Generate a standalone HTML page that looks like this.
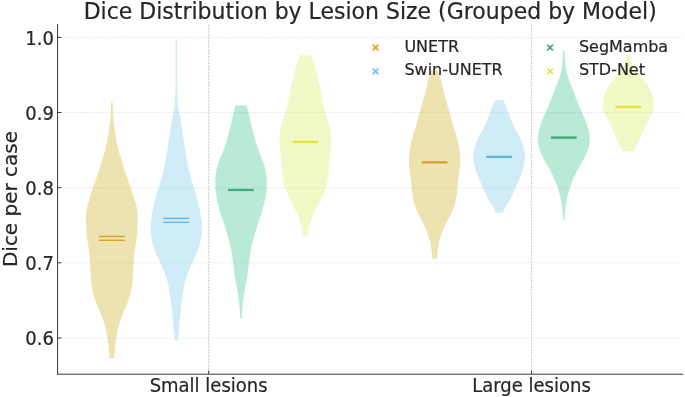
<!DOCTYPE html>
<html><head><meta charset="utf-8"><title>Dice Distribution by Lesion Size</title>
<style>
html,body{margin:0;padding:0;background:#fff;}
svg{display:block;font-family:"DejaVu Sans","Liberation Sans",sans-serif;}
</style></head><body>
<svg width="685" height="397" viewBox="0 0 685 397">
<rect width="685" height="397" fill="#fff"/>

<g stroke="#e6e6e6" stroke-width="0.8" stroke-dasharray="2 1.15" fill="none">
<line x1="58" x2="683" y1="37.4" y2="37.4"/>
<line x1="58" x2="683" y1="112.5" y2="112.5"/>
<line x1="58" x2="683" y1="187.7" y2="187.7"/>
<line x1="58" x2="683" y1="262.8" y2="262.8"/>
<line x1="58" x2="683" y1="338.0" y2="338.0"/>
</g>
<g stroke="#d0d0d0" stroke-width="1.2" stroke-dasharray="2 1.15" fill="none">
<line x1="208.7" x2="208.7" y1="24.5" y2="374"/>
<line x1="531.5" x2="531.5" y1="24.5" y2="374"/>
</g>
<path d="M111.1 102.1 L111.1 103.1 L111.1 104.1 L111.1 105.1 L111.1 106.1 L111.0 107.1 L111.0 108.1 L111.0 109.1 L110.9 110.1 L110.9 111.1 L110.9 112.1 L110.8 113.1 L110.8 114.1 L110.7 115.1 L110.6 116.1 L110.5 117.1 L110.4 118.1 L110.3 119.1 L110.2 120.1 L110.1 121.1 L110.0 122.1 L109.8 123.1 L109.7 124.1 L109.6 125.1 L109.4 126.1 L109.3 127.1 L109.2 128.1 L109.1 129.1 L108.9 130.1 L108.8 131.1 L108.7 132.1 L108.5 133.1 L108.4 134.1 L108.2 135.1 L108.0 136.1 L107.9 137.1 L107.7 138.1 L107.5 139.1 L107.3 140.1 L107.1 141.1 L106.9 142.1 L106.7 143.1 L106.4 144.1 L106.3 145.1 L106.1 146.1 L105.9 147.1 L105.7 148.1 L105.6 149.1 L105.3 150.1 L105.1 151.1 L104.7 152.1 L104.4 153.1 L104.0 154.1 L103.7 155.1 L103.3 156.1 L103.0 157.1 L102.7 158.1 L102.4 159.1 L102.1 160.1 L101.8 161.1 L101.5 162.1 L101.2 163.1 L100.9 164.1 L100.6 165.1 L100.3 166.1 L100.0 167.1 L99.7 168.1 L99.4 169.1 L99.1 170.1 L98.7 171.1 L98.4 172.1 L98.1 173.1 L97.7 174.1 L97.4 175.1 L97.0 176.1 L96.7 177.1 L96.3 178.1 L96.0 179.1 L95.6 180.1 L95.3 181.1 L94.9 182.1 L94.6 183.1 L94.2 184.1 L93.9 185.1 L93.5 186.1 L93.2 187.1 L92.8 188.1 L92.5 189.1 L92.2 190.1 L91.8 191.1 L91.5 192.1 L91.2 193.1 L90.8 194.1 L90.5 195.1 L90.3 196.1 L90.0 197.1 L89.7 198.1 L89.4 199.1 L89.1 200.1 L88.8 201.1 L88.5 202.1 L88.1 203.1 L87.8 204.1 L87.5 205.1 L87.3 206.1 L87.1 207.1 L86.9 208.1 L86.7 209.1 L86.5 210.1 L86.4 211.1 L86.3 212.1 L86.2 213.1 L86.1 214.1 L86.1 215.1 L86.0 216.1 L86.0 217.1 L86.0 218.1 L86.0 219.1 L86.0 220.1 L86.0 221.1 L86.0 222.1 L86.0 223.1 L86.0 224.1 L86.0 225.1 L86.1 226.1 L86.1 227.1 L86.2 228.1 L86.3 229.1 L86.3 230.1 L86.4 231.1 L86.5 232.1 L86.6 233.1 L86.7 234.1 L86.8 235.1 L86.9 236.1 L87.0 237.1 L87.1 238.1 L87.2 239.1 L87.3 240.1 L87.5 241.1 L87.6 242.1 L87.8 243.1 L87.9 244.1 L88.1 245.1 L88.3 246.1 L88.5 247.1 L88.7 248.1 L88.8 249.1 L89.0 250.1 L89.1 251.1 L89.2 252.1 L89.3 253.1 L89.4 254.1 L89.5 255.1 L89.6 256.1 L89.7 257.1 L89.7 258.1 L89.8 259.1 L89.8 260.1 L89.9 261.1 L89.9 262.1 L90.0 263.1 L90.0 264.1 L90.1 265.1 L90.1 266.1 L90.1 267.1 L90.2 268.1 L90.2 269.1 L90.3 270.1 L90.3 271.1 L90.4 272.1 L90.4 273.1 L90.5 274.1 L90.6 275.1 L90.7 276.1 L90.7 277.1 L90.8 278.1 L90.9 279.1 L91.0 280.1 L91.1 281.1 L91.2 282.1 L91.4 283.1 L91.5 284.1 L91.6 285.1 L91.8 286.1 L92.0 287.1 L92.2 288.1 L92.4 289.1 L92.6 290.1 L92.8 291.1 L93.0 292.1 L93.2 293.1 L93.4 294.1 L93.7 295.1 L93.9 296.1 L94.2 297.1 L94.5 298.1 L94.8 299.1 L95.2 300.1 L95.6 301.1 L96.0 302.1 L96.3 303.1 L96.6 304.1 L97.0 305.1 L97.3 306.1 L97.8 307.1 L98.3 308.1 L98.8 309.1 L99.2 310.1 L99.6 311.1 L100.0 312.1 L100.4 313.1 L100.8 314.1 L101.2 315.1 L101.6 316.1 L101.9 317.1 L102.3 318.1 L102.7 319.1 L103.1 320.1 L103.4 321.1 L103.8 322.1 L104.1 323.1 L104.4 324.1 L104.7 325.1 L105.0 326.1 L105.3 327.1 L105.5 328.1 L105.8 329.1 L106.0 330.1 L106.2 331.1 L106.4 332.1 L106.6 333.1 L106.8 334.1 L107.0 335.1 L107.2 336.1 L107.3 337.1 L107.5 338.1 L107.6 339.1 L107.8 340.1 L107.9 341.1 L108.0 342.1 L108.1 343.1 L108.3 344.1 L108.4 345.1 L108.5 346.1 L108.6 347.1 L108.6 348.1 L108.7 349.1 L108.8 350.1 L108.9 351.1 L109.0 352.1 L109.0 353.1 L109.1 354.1 L109.2 355.1 L109.3 356.1 L109.4 357.1 L109.4 358.1 L109.4 358.3 L114.2 358.3 L114.3 358.1 L114.3 357.1 L114.4 356.1 L114.5 355.1 L114.6 354.1 L114.7 353.1 L114.7 352.1 L114.8 351.1 L114.9 350.1 L115.0 349.1 L115.1 348.1 L115.1 347.1 L115.2 346.1 L115.3 345.1 L115.4 344.1 L115.6 343.1 L115.7 342.1 L115.8 341.1 L115.9 340.1 L116.1 339.1 L116.2 338.1 L116.4 337.1 L116.5 336.1 L116.7 335.1 L116.9 334.1 L117.1 333.1 L117.3 332.1 L117.5 331.1 L117.7 330.1 L117.9 329.1 L118.2 328.1 L118.4 327.1 L118.7 326.1 L119.0 325.1 L119.3 324.1 L119.6 323.1 L119.9 322.1 L120.3 321.1 L120.6 320.1 L121.0 319.1 L121.4 318.1 L121.8 317.1 L122.1 316.1 L122.5 315.1 L122.9 314.1 L123.3 313.1 L123.7 312.1 L124.1 311.1 L124.5 310.1 L124.9 309.1 L125.4 308.1 L125.9 307.1 L126.4 306.1 L126.7 305.1 L127.1 304.1 L127.4 303.1 L127.7 302.1 L128.1 301.1 L128.5 300.1 L128.9 299.1 L129.2 298.1 L129.5 297.1 L129.8 296.1 L130.0 295.1 L130.3 294.1 L130.5 293.1 L130.7 292.1 L130.9 291.1 L131.1 290.1 L131.3 289.1 L131.5 288.1 L131.7 287.1 L131.9 286.1 L132.1 285.1 L132.2 284.1 L132.3 283.1 L132.5 282.1 L132.6 281.1 L132.7 280.1 L132.8 279.1 L132.9 278.1 L133.0 277.1 L133.0 276.1 L133.1 275.1 L133.2 274.1 L133.3 273.1 L133.3 272.1 L133.4 271.1 L133.4 270.1 L133.5 269.1 L133.5 268.1 L133.6 267.1 L133.6 266.1 L133.6 265.1 L133.7 264.1 L133.7 263.1 L133.8 262.1 L133.8 261.1 L133.9 260.1 L133.9 259.1 L134.0 258.1 L134.0 257.1 L134.1 256.1 L134.2 255.1 L134.3 254.1 L134.4 253.1 L134.5 252.1 L134.6 251.1 L134.7 250.1 L134.9 249.1 L135.0 248.1 L135.2 247.1 L135.4 246.1 L135.6 245.1 L135.8 244.1 L135.9 243.1 L136.1 242.1 L136.2 241.1 L136.4 240.1 L136.5 239.1 L136.6 238.1 L136.7 237.1 L136.8 236.1 L136.9 235.1 L137.0 234.1 L137.1 233.1 L137.2 232.1 L137.3 231.1 L137.4 230.1 L137.4 229.1 L137.5 228.1 L137.6 227.1 L137.6 226.1 L137.7 225.1 L137.7 224.1 L137.7 223.1 L137.7 222.1 L137.7 221.1 L137.7 220.1 L137.7 219.1 L137.7 218.1 L137.7 217.1 L137.7 216.1 L137.6 215.1 L137.6 214.1 L137.5 213.1 L137.4 212.1 L137.3 211.1 L137.2 210.1 L137.0 209.1 L136.8 208.1 L136.6 207.1 L136.4 206.1 L136.2 205.1 L135.9 204.1 L135.6 203.1 L135.2 202.1 L134.9 201.1 L134.6 200.1 L134.3 199.1 L134.0 198.1 L133.7 197.1 L133.4 196.1 L133.2 195.1 L132.8 194.1 L132.5 193.1 L132.2 192.1 L131.9 191.1 L131.5 190.1 L131.2 189.1 L130.9 188.1 L130.5 187.1 L130.2 186.1 L129.8 185.1 L129.5 184.1 L129.1 183.1 L128.8 182.1 L128.4 181.1 L128.1 180.1 L127.7 179.1 L127.4 178.1 L127.0 177.1 L126.7 176.1 L126.3 175.1 L126.0 174.1 L125.6 173.1 L125.3 172.1 L125.0 171.1 L124.6 170.1 L124.3 169.1 L124.0 168.1 L123.7 167.1 L123.4 166.1 L123.1 165.1 L122.8 164.1 L122.5 163.1 L122.2 162.1 L121.9 161.1 L121.6 160.1 L121.3 159.1 L121.0 158.1 L120.7 157.1 L120.4 156.1 L120.0 155.1 L119.7 154.1 L119.3 153.1 L119.0 152.1 L118.6 151.1 L118.4 150.1 L118.1 149.1 L118.0 148.1 L117.8 147.1 L117.6 146.1 L117.4 145.1 L117.2 144.1 L117.0 143.1 L116.8 142.1 L116.6 141.1 L116.4 140.1 L116.2 139.1 L116.0 138.1 L115.8 137.1 L115.7 136.1 L115.5 135.1 L115.3 134.1 L115.2 133.1 L115.0 132.1 L114.9 131.1 L114.8 130.1 L114.6 129.1 L114.5 128.1 L114.4 127.1 L114.3 126.1 L114.1 125.1 L114.0 124.1 L113.9 123.1 L113.7 122.1 L113.6 121.1 L113.5 120.1 L113.4 119.1 L113.3 118.1 L113.2 117.1 L113.1 116.1 L113.0 115.1 L112.9 114.1 L112.9 113.1 L112.8 112.1 L112.8 111.1 L112.8 110.1 L112.7 109.1 L112.7 108.1 L112.7 107.1 L112.6 106.1 L112.6 105.1 L112.6 104.1 L112.6 103.1 L112.6 102.1Z" fill="rgb(204,175,32)" fill-opacity="0.35"/>
<path d="M175.7 40.1 L175.7 41.1 L175.7 42.1 L175.7 43.1 L175.7 44.1 L175.7 45.1 L175.7 46.1 L175.7 47.1 L175.7 48.1 L175.7 49.1 L175.7 50.1 L175.7 51.1 L175.7 52.1 L175.7 53.1 L175.7 54.1 L175.7 55.1 L175.7 56.1 L175.7 57.1 L175.7 58.1 L175.7 59.1 L175.6 60.1 L175.6 61.1 L175.6 62.1 L175.6 63.1 L175.6 64.1 L175.6 65.1 L175.6 66.1 L175.6 67.1 L175.6 68.1 L175.6 69.1 L175.6 70.1 L175.6 71.1 L175.6 72.1 L175.6 73.1 L175.6 74.1 L175.6 75.1 L175.6 76.1 L175.6 77.1 L175.6 78.1 L175.6 79.1 L175.6 80.1 L175.6 81.1 L175.6 82.1 L175.6 83.1 L175.6 84.1 L175.5 85.1 L175.5 86.1 L175.5 87.1 L175.5 88.1 L175.5 89.1 L175.5 90.1 L175.4 91.1 L175.4 92.1 L175.4 93.1 L175.3 94.1 L175.3 95.1 L175.3 96.1 L175.2 97.1 L175.2 98.1 L175.1 99.1 L175.1 100.1 L175.0 101.1 L174.9 102.1 L174.9 103.1 L174.8 104.1 L174.7 105.1 L174.6 106.1 L174.4 107.1 L174.3 108.1 L174.1 109.1 L173.9 110.1 L173.7 111.1 L173.5 112.1 L173.4 113.1 L173.2 114.1 L173.0 115.1 L172.8 116.1 L172.6 117.1 L172.5 118.1 L172.3 119.1 L172.1 120.1 L171.9 121.1 L171.8 122.1 L171.6 123.1 L171.5 124.1 L171.3 125.1 L171.1 126.1 L171.0 127.1 L170.8 128.1 L170.6 129.1 L170.5 130.1 L170.3 131.1 L170.1 132.1 L170.0 133.1 L169.8 134.1 L169.7 135.1 L169.5 136.1 L169.3 137.1 L169.2 138.1 L169.0 139.1 L168.8 140.1 L168.7 141.1 L168.5 142.1 L168.4 143.1 L168.2 144.1 L168.1 145.1 L167.9 146.1 L167.8 147.1 L167.6 148.1 L167.5 149.1 L167.3 150.1 L167.2 151.1 L167.0 152.1 L166.9 153.1 L166.7 154.1 L166.6 155.1 L166.4 156.1 L166.3 157.1 L166.1 158.1 L166.0 159.1 L165.8 160.1 L165.6 161.1 L165.4 162.1 L165.2 163.1 L165.0 164.1 L164.8 165.1 L164.6 166.1 L164.3 167.1 L164.1 168.1 L163.9 169.1 L163.7 170.1 L163.5 171.1 L163.2 172.1 L163.0 173.1 L162.7 174.1 L162.5 175.1 L162.2 176.1 L161.9 177.1 L161.6 178.1 L161.3 179.1 L161.0 180.1 L160.7 181.1 L160.4 182.1 L160.1 183.1 L159.8 184.1 L159.5 185.1 L159.2 186.1 L158.9 187.1 L158.5 188.1 L158.2 189.1 L157.9 190.1 L157.6 191.1 L157.3 192.1 L157.0 193.1 L156.7 194.1 L156.4 195.1 L156.1 196.1 L155.8 197.1 L155.6 198.1 L155.3 199.1 L155.0 200.1 L154.8 201.1 L154.5 202.1 L154.3 203.1 L154.1 204.1 L153.8 205.1 L153.6 206.1 L153.4 207.1 L153.2 208.1 L153.0 209.1 L152.8 210.1 L152.6 211.1 L152.5 212.1 L152.3 213.1 L152.1 214.1 L152.0 215.1 L151.9 216.1 L151.7 217.1 L151.6 218.1 L151.4 219.1 L151.2 220.1 L151.0 221.1 L150.9 222.1 L150.8 223.1 L150.8 224.1 L150.7 225.1 L150.7 226.1 L150.6 227.1 L150.6 228.1 L150.6 229.1 L150.6 230.1 L150.6 231.1 L150.7 232.1 L150.8 233.1 L150.9 234.1 L151.1 235.1 L151.2 236.1 L151.3 237.1 L151.5 238.1 L151.6 239.1 L151.8 240.1 L152.1 241.1 L152.3 242.1 L152.5 243.1 L152.8 244.1 L153.0 245.1 L153.3 246.1 L153.6 247.1 L154.0 248.1 L154.3 249.1 L154.7 250.1 L155.0 251.1 L155.4 252.1 L155.8 253.1 L156.3 254.1 L156.7 255.1 L157.2 256.1 L157.7 257.1 L158.1 258.1 L158.6 259.1 L159.0 260.1 L159.5 261.1 L160.0 262.1 L160.4 263.1 L160.9 264.1 L161.3 265.1 L161.8 266.1 L162.2 267.1 L162.6 268.1 L163.0 269.1 L163.4 270.1 L163.8 271.1 L164.2 272.1 L164.6 273.1 L165.0 274.1 L165.4 275.1 L165.8 276.1 L166.1 277.1 L166.5 278.1 L166.8 279.1 L167.1 280.1 L167.3 281.1 L167.6 282.1 L167.9 283.1 L168.1 284.1 L168.3 285.1 L168.5 286.1 L168.7 287.1 L168.9 288.1 L169.1 289.1 L169.2 290.1 L169.4 291.1 L169.5 292.1 L169.7 293.1 L169.8 294.1 L170.0 295.1 L170.1 296.1 L170.2 297.1 L170.4 298.1 L170.5 299.1 L170.6 300.1 L170.7 301.1 L170.9 302.1 L171.0 303.1 L171.1 304.1 L171.2 305.1 L171.4 306.1 L171.5 307.1 L171.6 308.1 L171.7 309.1 L171.8 310.1 L171.9 311.1 L172.0 312.1 L172.1 313.1 L172.2 314.1 L172.3 315.1 L172.4 316.1 L172.5 317.1 L172.6 318.1 L172.7 319.1 L172.8 320.1 L172.9 321.1 L173.0 322.1 L173.1 323.1 L173.2 324.1 L173.2 325.1 L173.3 326.1 L173.4 327.1 L173.5 328.1 L173.6 329.1 L173.7 330.1 L173.9 331.1 L174.0 332.1 L174.1 333.1 L174.2 334.1 L174.3 335.1 L174.4 336.1 L174.5 337.1 L174.5 338.1 L174.6 339.1 L174.7 340.1 L174.7 340.9 L177.9 340.9 L177.9 340.1 L178.0 339.1 L178.1 338.1 L178.1 337.1 L178.2 336.1 L178.3 335.1 L178.4 334.1 L178.5 333.1 L178.6 332.1 L178.7 331.1 L178.9 330.1 L179.0 329.1 L179.1 328.1 L179.2 327.1 L179.3 326.1 L179.4 325.1 L179.4 324.1 L179.5 323.1 L179.6 322.1 L179.7 321.1 L179.8 320.1 L179.9 319.1 L180.0 318.1 L180.1 317.1 L180.2 316.1 L180.3 315.1 L180.4 314.1 L180.5 313.1 L180.6 312.1 L180.7 311.1 L180.8 310.1 L180.9 309.1 L181.0 308.1 L181.1 307.1 L181.2 306.1 L181.4 305.1 L181.5 304.1 L181.6 303.1 L181.7 302.1 L181.9 301.1 L182.0 300.1 L182.1 299.1 L182.2 298.1 L182.4 297.1 L182.5 296.1 L182.6 295.1 L182.8 294.1 L182.9 293.1 L183.1 292.1 L183.2 291.1 L183.4 290.1 L183.5 289.1 L183.7 288.1 L183.9 287.1 L184.1 286.1 L184.3 285.1 L184.5 284.1 L184.7 283.1 L185.0 282.1 L185.3 281.1 L185.5 280.1 L185.8 279.1 L186.1 278.1 L186.5 277.1 L186.8 276.1 L187.2 275.1 L187.6 274.1 L188.0 273.1 L188.4 272.1 L188.8 271.1 L189.2 270.1 L189.6 269.1 L190.0 268.1 L190.4 267.1 L190.8 266.1 L191.3 265.1 L191.7 264.1 L192.2 263.1 L192.6 262.1 L193.1 261.1 L193.6 260.1 L194.0 259.1 L194.5 258.1 L194.9 257.1 L195.4 256.1 L195.9 255.1 L196.3 254.1 L196.8 253.1 L197.2 252.1 L197.6 251.1 L197.9 250.1 L198.3 249.1 L198.6 248.1 L199.0 247.1 L199.3 246.1 L199.6 245.1 L199.8 244.1 L200.1 243.1 L200.3 242.1 L200.5 241.1 L200.8 240.1 L201.0 239.1 L201.1 238.1 L201.3 237.1 L201.4 236.1 L201.5 235.1 L201.7 234.1 L201.8 233.1 L201.9 232.1 L202.0 231.1 L202.0 230.1 L202.0 229.1 L202.0 228.1 L202.0 227.1 L201.9 226.1 L201.9 225.1 L201.8 224.1 L201.8 223.1 L201.7 222.1 L201.6 221.1 L201.4 220.1 L201.2 219.1 L201.0 218.1 L200.9 217.1 L200.7 216.1 L200.6 215.1 L200.5 214.1 L200.3 213.1 L200.1 212.1 L200.0 211.1 L199.8 210.1 L199.6 209.1 L199.4 208.1 L199.2 207.1 L199.0 206.1 L198.8 205.1 L198.5 204.1 L198.3 203.1 L198.1 202.1 L197.8 201.1 L197.6 200.1 L197.3 199.1 L197.0 198.1 L196.8 197.1 L196.5 196.1 L196.2 195.1 L195.9 194.1 L195.6 193.1 L195.3 192.1 L195.0 191.1 L194.7 190.1 L194.4 189.1 L194.1 188.1 L193.7 187.1 L193.4 186.1 L193.1 185.1 L192.8 184.1 L192.5 183.1 L192.2 182.1 L191.9 181.1 L191.6 180.1 L191.3 179.1 L191.0 178.1 L190.7 177.1 L190.4 176.1 L190.1 175.1 L189.9 174.1 L189.6 173.1 L189.4 172.1 L189.1 171.1 L188.9 170.1 L188.7 169.1 L188.5 168.1 L188.3 167.1 L188.0 166.1 L187.8 165.1 L187.6 164.1 L187.4 163.1 L187.2 162.1 L187.0 161.1 L186.8 160.1 L186.6 159.1 L186.5 158.1 L186.3 157.1 L186.2 156.1 L186.0 155.1 L185.9 154.1 L185.7 153.1 L185.6 152.1 L185.4 151.1 L185.3 150.1 L185.1 149.1 L185.0 148.1 L184.8 147.1 L184.7 146.1 L184.5 145.1 L184.4 144.1 L184.2 143.1 L184.1 142.1 L183.9 141.1 L183.8 140.1 L183.6 139.1 L183.4 138.1 L183.3 137.1 L183.1 136.1 L182.9 135.1 L182.8 134.1 L182.6 133.1 L182.5 132.1 L182.3 131.1 L182.1 130.1 L182.0 129.1 L181.8 128.1 L181.6 127.1 L181.5 126.1 L181.3 125.1 L181.1 124.1 L181.0 123.1 L180.8 122.1 L180.7 121.1 L180.5 120.1 L180.3 119.1 L180.1 118.1 L180.0 117.1 L179.8 116.1 L179.6 115.1 L179.4 114.1 L179.2 113.1 L179.1 112.1 L178.9 111.1 L178.7 110.1 L178.5 109.1 L178.3 108.1 L178.2 107.1 L178.0 106.1 L177.9 105.1 L177.8 104.1 L177.7 103.1 L177.7 102.1 L177.6 101.1 L177.5 100.1 L177.5 99.1 L177.4 98.1 L177.4 97.1 L177.3 96.1 L177.3 95.1 L177.3 94.1 L177.2 93.1 L177.2 92.1 L177.2 91.1 L177.1 90.1 L177.1 89.1 L177.1 88.1 L177.1 87.1 L177.1 86.1 L177.1 85.1 L177.0 84.1 L177.0 83.1 L177.0 82.1 L177.0 81.1 L177.0 80.1 L177.0 79.1 L177.0 78.1 L177.0 77.1 L177.0 76.1 L177.0 75.1 L177.0 74.1 L177.0 73.1 L177.0 72.1 L177.0 71.1 L177.0 70.1 L177.0 69.1 L177.0 68.1 L177.0 67.1 L177.0 66.1 L177.0 65.1 L177.0 64.1 L177.0 63.1 L177.0 62.1 L177.0 61.1 L177.0 60.1 L176.9 59.1 L176.9 58.1 L176.9 57.1 L176.9 56.1 L176.9 55.1 L176.9 54.1 L176.9 53.1 L176.9 52.1 L176.9 51.1 L176.9 50.1 L176.9 49.1 L176.9 48.1 L176.9 47.1 L176.9 46.1 L176.9 45.1 L176.9 44.1 L176.9 43.1 L176.9 42.1 L176.9 41.1 L176.9 40.1Z" fill="rgb(118,201,232)" fill-opacity="0.35"/>
<path d="M235.3 105.5 L235.0 106.5 L234.8 107.5 L234.5 108.5 L234.3 109.5 L234.1 110.5 L233.8 111.5 L233.6 112.5 L233.3 113.5 L233.1 114.5 L232.9 115.5 L232.6 116.5 L232.4 117.5 L232.2 118.5 L232.0 119.5 L231.8 120.5 L231.6 121.5 L231.3 122.5 L231.1 123.5 L230.9 124.5 L230.7 125.5 L230.4 126.5 L230.2 127.5 L229.9 128.5 L229.7 129.5 L229.4 130.5 L229.2 131.5 L228.9 132.5 L228.7 133.5 L228.4 134.5 L228.2 135.5 L227.9 136.5 L227.7 137.5 L227.4 138.5 L227.1 139.5 L226.8 140.5 L226.5 141.5 L226.1 142.5 L225.8 143.5 L225.4 144.5 L225.1 145.5 L224.7 146.5 L224.4 147.5 L224.1 148.5 L223.7 149.5 L223.4 150.5 L223.0 151.5 L222.7 152.5 L222.3 153.5 L221.9 154.5 L221.4 155.5 L220.9 156.5 L220.4 157.5 L220.0 158.5 L219.7 159.5 L219.4 160.5 L219.1 161.5 L218.7 162.5 L218.3 163.5 L217.9 164.5 L217.5 165.5 L217.3 166.5 L217.0 167.5 L216.8 168.5 L216.5 169.5 L216.3 170.5 L216.2 171.5 L216.0 172.5 L215.9 173.5 L215.7 174.5 L215.6 175.5 L215.5 176.5 L215.4 177.5 L215.3 178.5 L215.3 179.5 L215.3 180.5 L215.3 181.5 L215.3 182.5 L215.3 183.5 L215.3 184.5 L215.3 185.5 L215.3 186.5 L215.3 187.5 L215.3 188.5 L215.4 189.5 L215.5 190.5 L215.7 191.5 L215.8 192.5 L216.0 193.5 L216.1 194.5 L216.2 195.5 L216.4 196.5 L216.6 197.5 L216.8 198.5 L217.0 199.5 L217.2 200.5 L217.4 201.5 L217.6 202.5 L217.9 203.5 L218.2 204.5 L218.4 205.5 L218.7 206.5 L219.0 207.5 L219.2 208.5 L219.5 209.5 L219.7 210.5 L219.9 211.5 L220.1 212.5 L220.4 213.5 L220.7 214.5 L221.1 215.5 L221.5 216.5 L221.9 217.5 L222.3 218.5 L222.6 219.5 L223.0 220.5 L223.3 221.5 L223.6 222.5 L224.0 223.5 L224.3 224.5 L224.6 225.5 L225.0 226.5 L225.3 227.5 L225.6 228.5 L225.9 229.5 L226.2 230.5 L226.5 231.5 L226.8 232.5 L227.1 233.5 L227.4 234.5 L227.7 235.5 L228.0 236.5 L228.2 237.5 L228.5 238.5 L228.8 239.5 L229.1 240.5 L229.3 241.5 L229.6 242.5 L229.8 243.5 L230.0 244.5 L230.3 245.5 L230.5 246.5 L230.7 247.5 L230.9 248.5 L231.1 249.5 L231.3 250.5 L231.5 251.5 L231.6 252.5 L231.8 253.5 L231.9 254.5 L232.1 255.5 L232.2 256.5 L232.4 257.5 L232.5 258.5 L232.7 259.5 L232.8 260.5 L232.9 261.5 L233.1 262.5 L233.2 263.5 L233.3 264.5 L233.5 265.5 L233.6 266.5 L233.8 267.5 L233.9 268.5 L234.0 269.5 L234.2 270.5 L234.3 271.5 L234.3 272.5 L234.4 273.5 L234.5 274.5 L234.7 275.5 L234.9 276.5 L235.0 277.5 L235.2 278.5 L235.4 279.5 L235.6 280.5 L235.8 281.5 L235.9 282.5 L236.1 283.5 L236.3 284.5 L236.5 285.5 L236.7 286.5 L236.8 287.5 L237.0 288.5 L237.2 289.5 L237.3 290.5 L237.5 291.5 L237.7 292.5 L237.8 293.5 L238.0 294.5 L238.1 295.5 L238.3 296.5 L238.4 297.5 L238.6 298.5 L238.7 299.5 L238.9 300.5 L239.0 301.5 L239.1 302.5 L239.2 303.5 L239.3 304.5 L239.4 305.5 L239.5 306.5 L239.6 307.5 L239.7 308.5 L239.8 309.5 L239.8 310.5 L239.9 311.5 L240.0 312.5 L240.0 313.5 L240.1 314.5 L240.1 315.5 L240.1 316.5 L240.2 317.5 L240.2 318.3 L241.8 318.3 L241.8 317.5 L241.9 316.5 L241.9 315.5 L241.9 314.5 L242.0 313.5 L242.0 312.5 L242.1 311.5 L242.2 310.5 L242.2 309.5 L242.3 308.5 L242.4 307.5 L242.5 306.5 L242.6 305.5 L242.7 304.5 L242.8 303.5 L242.9 302.5 L243.0 301.5 L243.1 300.5 L243.3 299.5 L243.4 298.5 L243.6 297.5 L243.7 296.5 L243.9 295.5 L244.0 294.5 L244.2 293.5 L244.3 292.5 L244.5 291.5 L244.7 290.5 L244.8 289.5 L245.0 288.5 L245.2 287.5 L245.3 286.5 L245.5 285.5 L245.7 284.5 L245.9 283.5 L246.1 282.5 L246.2 281.5 L246.4 280.5 L246.6 279.5 L246.8 278.5 L247.0 277.5 L247.1 276.5 L247.3 275.5 L247.5 274.5 L247.6 273.5 L247.7 272.5 L247.7 271.5 L247.8 270.5 L248.0 269.5 L248.1 268.5 L248.2 267.5 L248.4 266.5 L248.5 265.5 L248.7 264.5 L248.8 263.5 L248.9 262.5 L249.1 261.5 L249.2 260.5 L249.3 259.5 L249.5 258.5 L249.6 257.5 L249.8 256.5 L249.9 255.5 L250.1 254.5 L250.2 253.5 L250.4 252.5 L250.5 251.5 L250.7 250.5 L250.9 249.5 L251.1 248.5 L251.3 247.5 L251.5 246.5 L251.7 245.5 L252.0 244.5 L252.2 243.5 L252.4 242.5 L252.7 241.5 L252.9 240.5 L253.2 239.5 L253.5 238.5 L253.8 237.5 L254.0 236.5 L254.3 235.5 L254.6 234.5 L254.9 233.5 L255.2 232.5 L255.5 231.5 L255.8 230.5 L256.1 229.5 L256.4 228.5 L256.7 227.5 L257.0 226.5 L257.4 225.5 L257.7 224.5 L258.0 223.5 L258.4 222.5 L258.7 221.5 L259.0 220.5 L259.4 219.5 L259.7 218.5 L260.1 217.5 L260.5 216.5 L260.9 215.5 L261.3 214.5 L261.6 213.5 L261.9 212.5 L262.1 211.5 L262.3 210.5 L262.5 209.5 L262.8 208.5 L263.0 207.5 L263.3 206.5 L263.6 205.5 L263.8 204.5 L264.1 203.5 L264.4 202.5 L264.6 201.5 L264.8 200.5 L265.0 199.5 L265.2 198.5 L265.4 197.5 L265.6 196.5 L265.8 195.5 L265.9 194.5 L266.0 193.5 L266.2 192.5 L266.3 191.5 L266.5 190.5 L266.6 189.5 L266.7 188.5 L266.7 187.5 L266.7 186.5 L266.7 185.5 L266.7 184.5 L266.7 183.5 L266.7 182.5 L266.7 181.5 L266.7 180.5 L266.7 179.5 L266.7 178.5 L266.6 177.5 L266.5 176.5 L266.4 175.5 L266.3 174.5 L266.1 173.5 L266.0 172.5 L265.8 171.5 L265.7 170.5 L265.5 169.5 L265.2 168.5 L265.0 167.5 L264.7 166.5 L264.5 165.5 L264.1 164.5 L263.7 163.5 L263.3 162.5 L262.9 161.5 L262.6 160.5 L262.3 159.5 L262.0 158.5 L261.6 157.5 L261.1 156.5 L260.6 155.5 L260.1 154.5 L259.7 153.5 L259.3 152.5 L259.0 151.5 L258.6 150.5 L258.3 149.5 L257.9 148.5 L257.6 147.5 L257.3 146.5 L256.9 145.5 L256.6 144.5 L256.2 143.5 L255.9 142.5 L255.5 141.5 L255.2 140.5 L254.9 139.5 L254.6 138.5 L254.3 137.5 L254.1 136.5 L253.8 135.5 L253.6 134.5 L253.3 133.5 L253.1 132.5 L252.8 131.5 L252.6 130.5 L252.3 129.5 L252.1 128.5 L251.8 127.5 L251.6 126.5 L251.3 125.5 L251.1 124.5 L250.9 123.5 L250.7 122.5 L250.4 121.5 L250.2 120.5 L250.0 119.5 L249.8 118.5 L249.6 117.5 L249.4 116.5 L249.1 115.5 L248.9 114.5 L248.7 113.5 L248.4 112.5 L248.2 111.5 L247.9 110.5 L247.7 109.5 L247.5 108.5 L247.2 107.5 L247.0 106.5 L246.7 105.5Z" fill="rgb(55,195,138)" fill-opacity="0.35"/>
<path d="M300.0 55.2 L299.6 56.2 L299.3 57.2 L298.9 58.2 L298.6 59.2 L298.2 60.2 L297.9 61.2 L297.6 62.2 L297.3 63.2 L296.9 64.2 L296.6 65.2 L296.3 66.2 L296.0 67.2 L295.7 68.2 L295.4 69.2 L295.1 70.2 L294.8 71.2 L294.5 72.2 L294.2 73.2 L293.9 74.2 L293.6 75.2 L293.3 76.2 L293.1 77.2 L292.8 78.2 L292.5 79.2 L292.3 80.2 L292.0 81.2 L291.8 82.2 L291.6 83.2 L291.3 84.2 L291.1 85.2 L290.9 86.2 L290.7 87.2 L290.5 88.2 L290.3 89.2 L290.1 90.2 L289.9 91.2 L289.7 92.2 L289.5 93.2 L289.4 94.2 L289.2 95.2 L289.0 96.2 L288.8 97.2 L288.6 98.2 L288.4 99.2 L288.2 100.2 L288.0 101.2 L287.8 102.2 L287.6 103.2 L287.4 104.2 L287.2 105.2 L287.0 106.2 L286.8 107.2 L286.6 108.2 L286.4 109.2 L286.2 110.2 L285.9 111.2 L285.6 112.2 L285.3 113.2 L285.0 114.2 L284.6 115.2 L284.3 116.2 L284.0 117.2 L283.7 118.2 L283.4 119.2 L283.1 120.2 L282.8 121.2 L282.5 122.2 L282.2 123.2 L281.9 124.2 L281.6 125.2 L281.3 126.2 L281.1 127.2 L280.8 128.2 L280.6 129.2 L280.5 130.2 L280.3 131.2 L280.1 132.2 L280.0 133.2 L279.9 134.2 L279.8 135.2 L279.7 136.2 L279.7 137.2 L279.7 138.2 L279.7 139.2 L279.7 140.2 L279.7 141.2 L279.7 142.2 L279.7 143.2 L279.7 144.2 L279.7 145.2 L279.8 146.2 L279.8 147.2 L279.9 148.2 L280.0 149.2 L280.1 150.2 L280.2 151.2 L280.3 152.2 L280.4 153.2 L280.5 154.2 L280.6 155.2 L280.7 156.2 L280.8 157.2 L280.9 158.2 L281.0 159.2 L281.1 160.2 L281.2 161.2 L281.3 162.2 L281.4 163.2 L281.5 164.2 L281.6 165.2 L281.7 166.2 L281.8 167.2 L281.9 168.2 L281.9 169.2 L282.0 170.2 L282.1 171.2 L282.2 172.2 L282.2 173.2 L282.3 174.2 L282.4 175.2 L282.5 176.2 L282.6 177.2 L282.8 178.2 L282.9 179.2 L283.1 180.2 L283.3 181.2 L283.5 182.2 L283.8 183.2 L284.0 184.2 L284.3 185.2 L284.6 186.2 L284.9 187.2 L285.2 188.2 L285.6 189.2 L285.9 190.2 L286.3 191.2 L286.7 192.2 L287.1 193.2 L287.5 194.2 L288.0 195.2 L288.4 196.2 L288.9 197.2 L289.4 198.2 L289.9 199.2 L290.3 200.2 L290.8 201.2 L291.3 202.2 L291.8 203.2 L292.3 204.2 L292.8 205.2 L293.3 206.2 L293.9 207.2 L294.4 208.2 L294.9 209.2 L295.4 210.2 L295.9 211.2 L296.5 212.2 L296.9 213.2 L297.4 214.2 L297.8 215.2 L298.3 216.2 L298.7 217.2 L299.1 218.2 L299.4 219.2 L299.8 220.2 L300.1 221.2 L300.4 222.2 L300.7 223.2 L300.9 224.2 L301.2 225.2 L301.4 226.2 L301.6 227.2 L301.9 228.2 L302.1 229.2 L302.2 230.2 L302.4 231.2 L302.6 232.2 L302.7 233.2 L302.8 234.2 L303.0 235.2 L303.0 235.5 L307.8 235.5 L307.8 235.2 L308.0 234.2 L308.1 233.2 L308.2 232.2 L308.4 231.2 L308.6 230.2 L308.7 229.2 L308.9 228.2 L309.2 227.2 L309.4 226.2 L309.6 225.2 L309.9 224.2 L310.1 223.2 L310.4 222.2 L310.7 221.2 L311.0 220.2 L311.4 219.2 L311.7 218.2 L312.1 217.2 L312.5 216.2 L313.0 215.2 L313.4 214.2 L313.9 213.2 L314.3 212.2 L314.9 211.2 L315.4 210.2 L315.9 209.2 L316.4 208.2 L316.9 207.2 L317.5 206.2 L318.0 205.2 L318.5 204.2 L319.0 203.2 L319.5 202.2 L320.0 201.2 L320.5 200.2 L320.9 199.2 L321.4 198.2 L321.9 197.2 L322.4 196.2 L322.8 195.2 L323.3 194.2 L323.7 193.2 L324.1 192.2 L324.5 191.2 L324.9 190.2 L325.2 189.2 L325.6 188.2 L325.9 187.2 L326.2 186.2 L326.5 185.2 L326.8 184.2 L327.0 183.2 L327.3 182.2 L327.5 181.2 L327.7 180.2 L327.9 179.2 L328.0 178.2 L328.2 177.2 L328.3 176.2 L328.4 175.2 L328.5 174.2 L328.6 173.2 L328.6 172.2 L328.7 171.2 L328.8 170.2 L328.9 169.2 L328.9 168.2 L329.0 167.2 L329.1 166.2 L329.2 165.2 L329.3 164.2 L329.4 163.2 L329.5 162.2 L329.6 161.2 L329.7 160.2 L329.8 159.2 L329.9 158.2 L330.0 157.2 L330.1 156.2 L330.2 155.2 L330.3 154.2 L330.4 153.2 L330.5 152.2 L330.6 151.2 L330.7 150.2 L330.8 149.2 L330.9 148.2 L331.0 147.2 L331.0 146.2 L331.1 145.2 L331.1 144.2 L331.1 143.2 L331.1 142.2 L331.1 141.2 L331.1 140.2 L331.1 139.2 L331.1 138.2 L331.1 137.2 L331.1 136.2 L331.0 135.2 L330.9 134.2 L330.8 133.2 L330.7 132.2 L330.5 131.2 L330.3 130.2 L330.2 129.2 L330.0 128.2 L329.7 127.2 L329.5 126.2 L329.2 125.2 L328.9 124.2 L328.6 123.2 L328.3 122.2 L328.0 121.2 L327.7 120.2 L327.4 119.2 L327.1 118.2 L326.8 117.2 L326.5 116.2 L326.2 115.2 L325.8 114.2 L325.5 113.2 L325.2 112.2 L324.9 111.2 L324.6 110.2 L324.4 109.2 L324.2 108.2 L324.0 107.2 L323.8 106.2 L323.6 105.2 L323.4 104.2 L323.2 103.2 L323.0 102.2 L322.8 101.2 L322.6 100.2 L322.4 99.2 L322.2 98.2 L322.0 97.2 L321.8 96.2 L321.6 95.2 L321.4 94.2 L321.3 93.2 L321.1 92.2 L320.9 91.2 L320.7 90.2 L320.5 89.2 L320.3 88.2 L320.1 87.2 L319.9 86.2 L319.7 85.2 L319.5 84.2 L319.2 83.2 L319.0 82.2 L318.8 81.2 L318.5 80.2 L318.3 79.2 L318.0 78.2 L317.7 77.2 L317.5 76.2 L317.2 75.2 L316.9 74.2 L316.6 73.2 L316.3 72.2 L316.0 71.2 L315.7 70.2 L315.4 69.2 L315.1 68.2 L314.8 67.2 L314.5 66.2 L314.2 65.2 L313.9 64.2 L313.5 63.2 L313.2 62.2 L312.9 61.2 L312.6 60.2 L312.2 59.2 L311.9 58.2 L311.5 57.2 L311.2 56.2 L310.8 55.2Z" fill="rgb(215,238,95)" fill-opacity="0.35"/>
<path d="M430.8 70.7 L430.5 71.7 L430.2 72.7 L430.0 73.7 L429.7 74.7 L429.4 75.7 L429.1 76.7 L428.9 77.7 L428.6 78.7 L428.4 79.7 L428.1 80.7 L427.8 81.7 L427.6 82.7 L427.3 83.7 L427.1 84.7 L426.9 85.7 L426.7 86.7 L426.4 87.7 L426.2 88.7 L426.0 89.7 L425.7 90.7 L425.4 91.7 L425.2 92.7 L424.9 93.7 L424.6 94.7 L424.3 95.7 L424.0 96.7 L423.8 97.7 L423.5 98.7 L423.3 99.7 L423.0 100.7 L422.7 101.7 L422.4 102.7 L422.1 103.7 L421.8 104.7 L421.5 105.7 L421.2 106.7 L420.9 107.7 L420.6 108.7 L420.3 109.7 L420.1 110.7 L419.8 111.7 L419.6 112.7 L419.3 113.7 L419.1 114.7 L418.8 115.7 L418.5 116.7 L418.3 117.7 L418.0 118.7 L417.7 119.7 L417.4 120.7 L417.2 121.7 L416.9 122.7 L416.6 123.7 L416.3 124.7 L416.0 125.7 L415.7 126.7 L415.4 127.7 L415.1 128.7 L414.8 129.7 L414.5 130.7 L414.2 131.7 L413.8 132.7 L413.5 133.7 L413.2 134.7 L412.9 135.7 L412.6 136.7 L412.4 137.7 L412.1 138.7 L411.8 139.7 L411.5 140.7 L411.2 141.7 L411.0 142.7 L410.8 143.7 L410.6 144.7 L410.4 145.7 L410.2 146.7 L410.0 147.7 L409.9 148.7 L409.8 149.7 L409.6 150.7 L409.5 151.7 L409.4 152.7 L409.3 153.7 L409.2 154.7 L409.1 155.7 L409.0 156.7 L408.9 157.7 L408.9 158.7 L408.9 159.7 L408.9 160.7 L408.9 161.7 L408.9 162.7 L408.9 163.7 L409.0 164.7 L409.0 165.7 L409.1 166.7 L409.2 167.7 L409.4 168.7 L409.6 169.7 L409.8 170.7 L409.9 171.7 L410.0 172.7 L410.1 173.7 L410.3 174.7 L410.4 175.7 L410.5 176.7 L410.6 177.7 L410.7 178.7 L410.9 179.7 L411.0 180.7 L411.1 181.7 L411.2 182.7 L411.4 183.7 L411.5 184.7 L411.6 185.7 L411.7 186.7 L411.8 187.7 L411.9 188.7 L411.9 189.7 L412.0 190.7 L412.1 191.7 L412.3 192.7 L412.4 193.7 L412.5 194.7 L412.7 195.7 L412.8 196.7 L413.0 197.7 L413.1 198.7 L413.3 199.7 L413.5 200.7 L413.8 201.7 L414.0 202.7 L414.3 203.7 L414.6 204.7 L414.9 205.7 L415.2 206.7 L415.6 207.7 L416.0 208.7 L416.4 209.7 L416.8 210.7 L417.3 211.7 L417.7 212.7 L418.2 213.7 L418.6 214.7 L419.2 215.7 L419.7 216.7 L420.3 217.7 L420.8 218.7 L421.3 219.7 L421.8 220.7 L422.3 221.7 L422.8 222.7 L423.3 223.7 L423.8 224.7 L424.3 225.7 L424.7 226.7 L425.2 227.7 L425.6 228.7 L426.1 229.7 L426.5 230.7 L426.9 231.7 L427.3 232.7 L427.6 233.7 L428.0 234.7 L428.3 235.7 L428.6 236.7 L428.9 237.7 L429.2 238.7 L429.5 239.7 L429.8 240.7 L430.0 241.7 L430.2 242.7 L430.5 243.7 L430.7 244.7 L430.9 245.7 L431.0 246.7 L431.2 247.7 L431.3 248.7 L431.4 249.7 L431.5 250.7 L431.6 251.7 L431.7 252.7 L431.8 253.7 L431.9 254.7 L432.0 255.7 L432.1 256.7 L432.2 257.7 L432.3 258.7 L432.3 258.8 L436.9 258.8 L436.9 258.7 L437.0 257.7 L437.1 256.7 L437.2 255.7 L437.3 254.7 L437.4 253.7 L437.5 252.7 L437.6 251.7 L437.7 250.7 L437.8 249.7 L437.9 248.7 L438.0 247.7 L438.2 246.7 L438.3 245.7 L438.5 244.7 L438.7 243.7 L439.0 242.7 L439.2 241.7 L439.4 240.7 L439.7 239.7 L440.0 238.7 L440.3 237.7 L440.6 236.7 L440.9 235.7 L441.2 234.7 L441.6 233.7 L441.9 232.7 L442.3 231.7 L442.7 230.7 L443.1 229.7 L443.6 228.7 L444.0 227.7 L444.5 226.7 L444.9 225.7 L445.4 224.7 L445.9 223.7 L446.4 222.7 L446.9 221.7 L447.4 220.7 L447.9 219.7 L448.4 218.7 L448.9 217.7 L449.5 216.7 L450.0 215.7 L450.6 214.7 L451.0 213.7 L451.5 212.7 L451.9 211.7 L452.4 210.7 L452.8 209.7 L453.2 208.7 L453.6 207.7 L454.0 206.7 L454.3 205.7 L454.6 204.7 L454.9 203.7 L455.2 202.7 L455.4 201.7 L455.7 200.7 L455.9 199.7 L456.1 198.7 L456.2 197.7 L456.4 196.7 L456.5 195.7 L456.7 194.7 L456.8 193.7 L456.9 192.7 L457.1 191.7 L457.2 190.7 L457.3 189.7 L457.3 188.7 L457.4 187.7 L457.5 186.7 L457.6 185.7 L457.7 184.7 L457.8 183.7 L458.0 182.7 L458.1 181.7 L458.2 180.7 L458.3 179.7 L458.5 178.7 L458.6 177.7 L458.7 176.7 L458.8 175.7 L458.9 174.7 L459.1 173.7 L459.2 172.7 L459.3 171.7 L459.4 170.7 L459.6 169.7 L459.8 168.7 L460.0 167.7 L460.1 166.7 L460.2 165.7 L460.2 164.7 L460.3 163.7 L460.3 162.7 L460.3 161.7 L460.3 160.7 L460.3 159.7 L460.3 158.7 L460.3 157.7 L460.2 156.7 L460.1 155.7 L460.0 154.7 L459.9 153.7 L459.8 152.7 L459.7 151.7 L459.6 150.7 L459.4 149.7 L459.3 148.7 L459.2 147.7 L459.0 146.7 L458.8 145.7 L458.6 144.7 L458.4 143.7 L458.2 142.7 L458.0 141.7 L457.7 140.7 L457.4 139.7 L457.1 138.7 L456.8 137.7 L456.6 136.7 L456.3 135.7 L456.0 134.7 L455.7 133.7 L455.4 132.7 L455.0 131.7 L454.7 130.7 L454.4 129.7 L454.1 128.7 L453.8 127.7 L453.5 126.7 L453.2 125.7 L452.9 124.7 L452.6 123.7 L452.3 122.7 L452.0 121.7 L451.8 120.7 L451.5 119.7 L451.2 118.7 L450.9 117.7 L450.7 116.7 L450.4 115.7 L450.1 114.7 L449.9 113.7 L449.6 112.7 L449.4 111.7 L449.1 110.7 L448.9 109.7 L448.6 108.7 L448.3 107.7 L448.0 106.7 L447.7 105.7 L447.4 104.7 L447.1 103.7 L446.8 102.7 L446.5 101.7 L446.2 100.7 L445.9 99.7 L445.7 98.7 L445.4 97.7 L445.2 96.7 L444.9 95.7 L444.6 94.7 L444.3 93.7 L444.0 92.7 L443.8 91.7 L443.5 90.7 L443.2 89.7 L443.0 88.7 L442.8 87.7 L442.5 86.7 L442.3 85.7 L442.1 84.7 L441.9 83.7 L441.6 82.7 L441.4 81.7 L441.1 80.7 L440.8 79.7 L440.6 78.7 L440.3 77.7 L440.1 76.7 L439.8 75.7 L439.5 74.7 L439.2 73.7 L439.0 72.7 L438.7 71.7 L438.4 70.7Z" fill="rgb(204,175,32)" fill-opacity="0.35"/>
<path d="M495.5 100.0 L495.0 101.0 L494.4 102.0 L493.9 103.0 L493.4 104.0 L492.9 105.0 L492.5 106.0 L492.1 107.0 L491.7 108.0 L491.3 109.0 L490.9 110.0 L490.5 111.0 L490.1 112.0 L489.8 113.0 L489.4 114.0 L489.0 115.0 L488.7 116.0 L488.4 117.0 L488.0 118.0 L487.6 119.0 L487.3 120.0 L486.9 121.0 L486.5 122.0 L486.1 123.0 L485.6 124.0 L485.2 125.0 L484.8 126.0 L484.3 127.0 L483.8 128.0 L483.3 129.0 L482.7 130.0 L482.2 131.0 L481.6 132.0 L481.0 133.0 L480.5 134.0 L479.9 135.0 L479.4 136.0 L478.9 137.0 L478.3 138.0 L477.8 139.0 L477.3 140.0 L476.9 141.0 L476.5 142.0 L476.1 143.0 L475.7 144.0 L475.4 145.0 L475.1 146.0 L474.8 147.0 L474.6 148.0 L474.3 149.0 L474.1 150.0 L474.0 151.0 L473.8 152.0 L473.6 153.0 L473.5 154.0 L473.4 155.0 L473.4 156.0 L473.4 157.0 L473.5 158.0 L473.5 159.0 L473.6 160.0 L473.7 161.0 L473.8 162.0 L474.0 163.0 L474.2 164.0 L474.4 165.0 L474.7 166.0 L474.9 167.0 L475.2 168.0 L475.5 169.0 L475.8 170.0 L476.2 171.0 L476.5 172.0 L476.9 173.0 L477.3 174.0 L477.6 175.0 L478.0 176.0 L478.4 177.0 L478.8 178.0 L479.2 179.0 L479.6 180.0 L480.0 181.0 L480.4 182.0 L480.8 183.0 L481.2 184.0 L481.7 185.0 L482.1 186.0 L482.5 187.0 L482.9 188.0 L483.4 189.0 L483.8 190.0 L484.3 191.0 L484.7 192.0 L485.2 193.0 L485.7 194.0 L486.1 195.0 L486.6 196.0 L487.2 197.0 L487.7 198.0 L488.3 199.0 L488.9 200.0 L489.5 201.0 L490.1 202.0 L490.7 203.0 L491.3 204.0 L491.9 205.0 L492.4 206.0 L493.0 207.0 L493.6 208.0 L494.1 209.0 L494.6 210.0 L495.0 211.0 L495.4 212.0 L495.5 212.4 L502.9 212.4 L503.0 212.0 L503.4 211.0 L503.8 210.0 L504.3 209.0 L504.8 208.0 L505.4 207.0 L506.0 206.0 L506.5 205.0 L507.1 204.0 L507.7 203.0 L508.3 202.0 L508.9 201.0 L509.5 200.0 L510.1 199.0 L510.7 198.0 L511.2 197.0 L511.8 196.0 L512.3 195.0 L512.7 194.0 L513.2 193.0 L513.7 192.0 L514.1 191.0 L514.6 190.0 L515.0 189.0 L515.5 188.0 L515.9 187.0 L516.3 186.0 L516.7 185.0 L517.2 184.0 L517.6 183.0 L518.0 182.0 L518.4 181.0 L518.8 180.0 L519.2 179.0 L519.6 178.0 L520.0 177.0 L520.4 176.0 L520.8 175.0 L521.1 174.0 L521.5 173.0 L521.9 172.0 L522.2 171.0 L522.6 170.0 L522.9 169.0 L523.2 168.0 L523.5 167.0 L523.7 166.0 L524.0 165.0 L524.2 164.0 L524.4 163.0 L524.6 162.0 L524.7 161.0 L524.8 160.0 L524.9 159.0 L524.9 158.0 L525.0 157.0 L525.0 156.0 L525.0 155.0 L524.9 154.0 L524.8 153.0 L524.6 152.0 L524.4 151.0 L524.3 150.0 L524.1 149.0 L523.8 148.0 L523.6 147.0 L523.3 146.0 L523.0 145.0 L522.7 144.0 L522.3 143.0 L521.9 142.0 L521.5 141.0 L521.1 140.0 L520.6 139.0 L520.1 138.0 L519.5 137.0 L519.0 136.0 L518.5 135.0 L517.9 134.0 L517.4 133.0 L516.8 132.0 L516.2 131.0 L515.7 130.0 L515.1 129.0 L514.6 128.0 L514.1 127.0 L513.6 126.0 L513.2 125.0 L512.8 124.0 L512.3 123.0 L511.9 122.0 L511.5 121.0 L511.1 120.0 L510.8 119.0 L510.4 118.0 L510.0 117.0 L509.7 116.0 L509.4 115.0 L509.0 114.0 L508.6 113.0 L508.3 112.0 L507.9 111.0 L507.5 110.0 L507.1 109.0 L506.7 108.0 L506.3 107.0 L505.9 106.0 L505.5 105.0 L505.0 104.0 L504.5 103.0 L504.0 102.0 L503.4 101.0 L502.9 100.0Z" fill="rgb(118,201,232)" fill-opacity="0.35"/>
<path d="M563.1 50.2 L563.1 51.2 L563.0 52.2 L563.0 53.2 L562.9 54.2 L562.9 55.2 L562.8 56.2 L562.7 57.2 L562.7 58.2 L562.6 59.2 L562.6 60.2 L562.5 61.2 L562.4 62.2 L562.3 63.2 L562.2 64.2 L562.1 65.2 L562.0 66.2 L561.8 67.2 L561.7 68.2 L561.5 69.2 L561.3 70.2 L561.1 71.2 L560.9 72.2 L560.7 73.2 L560.4 74.2 L560.1 75.2 L559.8 76.2 L559.5 77.2 L559.2 78.2 L558.8 79.2 L558.5 80.2 L558.1 81.2 L557.7 82.2 L557.3 83.2 L556.9 84.2 L556.5 85.2 L556.1 86.2 L555.7 87.2 L555.3 88.2 L555.0 89.2 L554.6 90.2 L554.2 91.2 L553.8 92.2 L553.4 93.2 L553.1 94.2 L552.7 95.2 L552.3 96.2 L552.0 97.2 L551.6 98.2 L551.2 99.2 L550.8 100.2 L550.3 101.2 L549.9 102.2 L549.5 103.2 L549.2 104.2 L548.9 105.2 L548.5 106.2 L548.0 107.2 L547.5 108.2 L547.0 109.2 L546.5 110.2 L546.1 111.2 L545.6 112.2 L545.2 113.2 L544.7 114.2 L544.3 115.2 L543.9 116.2 L543.5 117.2 L543.1 118.2 L542.6 119.2 L542.2 120.2 L541.8 121.2 L541.4 122.2 L541.1 123.2 L540.7 124.2 L540.4 125.2 L540.1 126.2 L539.8 127.2 L539.5 128.2 L539.2 129.2 L539.0 130.2 L538.8 131.2 L538.6 132.2 L538.5 133.2 L538.3 134.2 L538.2 135.2 L538.1 136.2 L538.0 137.2 L537.9 138.2 L537.9 139.2 L537.9 140.2 L538.0 141.2 L538.1 142.2 L538.2 143.2 L538.3 144.2 L538.5 145.2 L538.7 146.2 L538.9 147.2 L539.1 148.2 L539.4 149.2 L539.7 150.2 L540.1 151.2 L540.5 152.2 L541.0 153.2 L541.4 154.2 L541.9 155.2 L542.4 156.2 L542.9 157.2 L543.4 158.2 L543.9 159.2 L544.3 160.2 L544.9 161.2 L545.5 162.2 L546.1 163.2 L546.7 164.2 L547.3 165.2 L547.9 166.2 L548.5 167.2 L549.1 168.2 L549.6 169.2 L550.2 170.2 L550.7 171.2 L551.2 172.2 L551.7 173.2 L552.2 174.2 L552.6 175.2 L553.1 176.2 L553.5 177.2 L554.0 178.2 L554.4 179.2 L554.8 180.2 L555.2 181.2 L555.6 182.2 L556.0 183.2 L556.4 184.2 L556.8 185.2 L557.2 186.2 L557.5 187.2 L557.8 188.2 L558.2 189.2 L558.5 190.2 L558.8 191.2 L559.1 192.2 L559.4 193.2 L559.6 194.2 L559.9 195.2 L560.1 196.2 L560.4 197.2 L560.6 198.2 L560.8 199.2 L561.0 200.2 L561.2 201.2 L561.4 202.2 L561.5 203.2 L561.7 204.2 L561.8 205.2 L562.0 206.2 L562.1 207.2 L562.2 208.2 L562.3 209.2 L562.4 210.2 L562.5 211.2 L562.6 212.2 L562.6 213.2 L562.7 214.2 L562.8 215.2 L562.8 216.2 L562.8 217.2 L562.9 218.2 L562.9 219.2 L562.9 219.8 L564.7 219.8 L564.7 219.2 L564.7 218.2 L564.8 217.2 L564.8 216.2 L564.8 215.2 L564.9 214.2 L565.0 213.2 L565.0 212.2 L565.1 211.2 L565.2 210.2 L565.3 209.2 L565.4 208.2 L565.5 207.2 L565.6 206.2 L565.8 205.2 L565.9 204.2 L566.1 203.2 L566.2 202.2 L566.4 201.2 L566.6 200.2 L566.8 199.2 L567.0 198.2 L567.2 197.2 L567.5 196.2 L567.7 195.2 L568.0 194.2 L568.2 193.2 L568.5 192.2 L568.8 191.2 L569.1 190.2 L569.4 189.2 L569.8 188.2 L570.1 187.2 L570.4 186.2 L570.8 185.2 L571.2 184.2 L571.6 183.2 L572.0 182.2 L572.4 181.2 L572.8 180.2 L573.2 179.2 L573.6 178.2 L574.1 177.2 L574.5 176.2 L575.0 175.2 L575.4 174.2 L575.9 173.2 L576.4 172.2 L576.9 171.2 L577.4 170.2 L578.0 169.2 L578.5 168.2 L579.1 167.2 L579.7 166.2 L580.3 165.2 L580.9 164.2 L581.5 163.2 L582.1 162.2 L582.7 161.2 L583.3 160.2 L583.7 159.2 L584.2 158.2 L584.7 157.2 L585.2 156.2 L585.7 155.2 L586.2 154.2 L586.6 153.2 L587.1 152.2 L587.5 151.2 L587.9 150.2 L588.2 149.2 L588.5 148.2 L588.7 147.2 L588.9 146.2 L589.1 145.2 L589.3 144.2 L589.4 143.2 L589.5 142.2 L589.6 141.2 L589.7 140.2 L589.7 139.2 L589.7 138.2 L589.6 137.2 L589.5 136.2 L589.4 135.2 L589.3 134.2 L589.1 133.2 L589.0 132.2 L588.8 131.2 L588.6 130.2 L588.4 129.2 L588.1 128.2 L587.8 127.2 L587.5 126.2 L587.2 125.2 L586.9 124.2 L586.5 123.2 L586.2 122.2 L585.8 121.2 L585.4 120.2 L585.0 119.2 L584.5 118.2 L584.1 117.2 L583.7 116.2 L583.3 115.2 L582.9 114.2 L582.4 113.2 L582.0 112.2 L581.5 111.2 L581.1 110.2 L580.6 109.2 L580.1 108.2 L579.6 107.2 L579.1 106.2 L578.7 105.2 L578.4 104.2 L578.1 103.2 L577.7 102.2 L577.3 101.2 L576.8 100.2 L576.4 99.2 L576.0 98.2 L575.6 97.2 L575.3 96.2 L574.9 95.2 L574.5 94.2 L574.2 93.2 L573.8 92.2 L573.4 91.2 L573.0 90.2 L572.6 89.2 L572.2 88.2 L571.9 87.2 L571.5 86.2 L571.1 85.2 L570.7 84.2 L570.3 83.2 L569.9 82.2 L569.5 81.2 L569.1 80.2 L568.8 79.2 L568.4 78.2 L568.1 77.2 L567.8 76.2 L567.5 75.2 L567.2 74.2 L566.9 73.2 L566.7 72.2 L566.5 71.2 L566.3 70.2 L566.1 69.2 L565.9 68.2 L565.8 67.2 L565.6 66.2 L565.5 65.2 L565.4 64.2 L565.3 63.2 L565.2 62.2 L565.1 61.2 L565.0 60.2 L565.0 59.2 L564.9 58.2 L564.9 57.2 L564.8 56.2 L564.7 55.2 L564.7 54.2 L564.6 53.2 L564.6 52.2 L564.5 51.2 L564.5 50.2Z" fill="rgb(55,195,138)" fill-opacity="0.35"/>
<path d="M626.1 55.5 L626.0 56.5 L625.8 57.5 L625.6 58.5 L625.5 59.5 L625.3 60.5 L625.1 61.5 L624.8 62.5 L624.6 63.5 L624.3 64.5 L624.0 65.5 L623.6 66.5 L623.2 67.5 L622.5 68.5 L621.8 69.5 L621.0 70.5 L620.3 71.5 L619.5 72.5 L618.7 73.5 L617.8 74.5 L617.0 75.5 L616.1 76.5 L615.3 77.5 L614.4 78.5 L613.5 79.5 L612.7 80.5 L611.9 81.5 L611.1 82.5 L610.3 83.5 L609.5 84.5 L608.8 85.5 L608.2 86.5 L607.6 87.5 L607.1 88.5 L606.6 89.5 L606.2 90.5 L605.8 91.5 L605.4 92.5 L605.1 93.5 L604.7 94.5 L604.4 95.5 L604.1 96.5 L603.8 97.5 L603.5 98.5 L603.3 99.5 L603.1 100.5 L603.0 101.5 L602.9 102.5 L602.8 103.5 L602.8 104.5 L602.7 105.5 L602.7 106.5 L602.7 107.5 L602.8 108.5 L603.0 109.5 L603.3 110.5 L603.6 111.5 L604.1 112.5 L604.7 113.5 L605.2 114.5 L605.8 115.5 L606.3 116.5 L606.7 117.5 L607.2 118.5 L607.7 119.5 L608.2 120.5 L608.7 121.5 L609.2 122.5 L609.7 123.5 L610.2 124.5 L610.6 125.5 L611.1 126.5 L611.6 127.5 L612.1 128.5 L612.5 129.5 L613.0 130.5 L613.5 131.5 L613.9 132.5 L614.3 133.5 L614.8 134.5 L615.2 135.5 L615.7 136.5 L616.2 137.5 L616.6 138.5 L617.1 139.5 L617.5 140.5 L618.0 141.5 L618.5 142.5 L618.9 143.5 L619.4 144.5 L619.8 145.5 L620.2 146.5 L620.7 147.5 L621.1 148.5 L621.5 149.5 L622.0 150.5 L622.3 151.3 L634.3 151.3 L634.6 150.5 L635.1 149.5 L635.5 148.5 L635.9 147.5 L636.4 146.5 L636.8 145.5 L637.2 144.5 L637.7 143.5 L638.1 142.5 L638.6 141.5 L639.1 140.5 L639.5 139.5 L640.0 138.5 L640.4 137.5 L640.9 136.5 L641.4 135.5 L641.8 134.5 L642.3 133.5 L642.7 132.5 L643.1 131.5 L643.6 130.5 L644.1 129.5 L644.5 128.5 L645.0 127.5 L645.5 126.5 L646.0 125.5 L646.4 124.5 L646.9 123.5 L647.4 122.5 L647.9 121.5 L648.4 120.5 L648.9 119.5 L649.4 118.5 L649.9 117.5 L650.3 116.5 L650.8 115.5 L651.4 114.5 L651.9 113.5 L652.5 112.5 L653.0 111.5 L653.3 110.5 L653.6 109.5 L653.8 108.5 L653.9 107.5 L653.9 106.5 L653.9 105.5 L653.8 104.5 L653.8 103.5 L653.7 102.5 L653.6 101.5 L653.5 100.5 L653.3 99.5 L653.1 98.5 L652.8 97.5 L652.5 96.5 L652.2 95.5 L651.9 94.5 L651.5 93.5 L651.2 92.5 L650.8 91.5 L650.4 90.5 L650.0 89.5 L649.5 88.5 L649.0 87.5 L648.4 86.5 L647.8 85.5 L647.1 84.5 L646.3 83.5 L645.5 82.5 L644.7 81.5 L643.9 80.5 L643.1 79.5 L642.2 78.5 L641.3 77.5 L640.5 76.5 L639.6 75.5 L638.8 74.5 L637.9 73.5 L637.1 72.5 L636.3 71.5 L635.6 70.5 L634.8 69.5 L634.1 68.5 L633.4 67.5 L633.0 66.5 L632.6 65.5 L632.3 64.5 L632.0 63.5 L631.8 62.5 L631.5 61.5 L631.3 60.5 L631.1 59.5 L631.0 58.5 L630.8 57.5 L630.6 56.5 L630.5 55.5Z" fill="rgb(215,238,95)" fill-opacity="0.35"/>
<line x1="98.9" x2="124.8" y1="236.45" y2="236.45" stroke="#DE9F28" stroke-width="1.35"/>
<line x1="98.9" x2="124.8" y1="240.3" y2="240.3" stroke="#DE9F28" stroke-width="1.35"/>
<line x1="163.4" x2="189.2" y1="218.4" y2="218.4" stroke="#63B5E6" stroke-width="1.35"/>
<line x1="163.4" x2="189.2" y1="222.35" y2="222.35" stroke="#63B5E6" stroke-width="1.35"/>
<line x1="228.1" x2="253.9" y1="189.95" y2="189.95" stroke="#3FA876" stroke-width="2.3"/>
<line x1="292.5" x2="318.3" y1="141.95" y2="141.95" stroke="#E2E63A" stroke-width="2.3"/>
<line x1="421.7" x2="447.5" y1="162.35" y2="162.35" stroke="#DE9F28" stroke-width="2.3"/>
<line x1="486.3" x2="512.1" y1="156.85" y2="156.85" stroke="#63B5E6" stroke-width="2.3"/>
<line x1="550.9" x2="576.7" y1="137.6" y2="137.6" stroke="#3FA876" stroke-width="2.3"/>
<line x1="615.4" x2="641.2" y1="107.0" y2="107.0" stroke="#E2E63A" stroke-width="2.3"/>
<g stroke="#3c3c3c" stroke-width="1" fill="none">
<line x1="57.6" x2="57.6" y1="23.9" y2="374.7"/>
<line x1="57.1" x2="683.2" y1="374.2" y2="374.2"/>
<line x1="57.6" x2="61.3" y1="37.4" y2="37.4"/>
<line x1="57.6" x2="61.3" y1="112.5" y2="112.5"/>
<line x1="57.6" x2="61.3" y1="187.7" y2="187.7"/>
<line x1="57.6" x2="61.3" y1="262.8" y2="262.8"/>
<line x1="57.6" x2="61.3" y1="338.0" y2="338.0"/>
<line x1="208.7" x2="208.7" y1="374.2" y2="370.6"/>
<line x1="531.5" x2="531.5" y1="374.2" y2="370.6"/>
</g>
<g fill="#262626" stroke="#262626" stroke-width="0.2" stroke-linejoin="round">
<text transform="translate(370.2 18.5) scale(1 1.03)" font-size="22" text-anchor="middle">Dice Distribution by Lesion Size (Grouped by Model)</text>
<text transform="translate(54.0 44.5) scale(1 1.03)" font-size="18" text-anchor="end">1.0</text>
<text transform="translate(54.0 119.6) scale(1 1.03)" font-size="18" text-anchor="end">0.9</text>
<text transform="translate(54.0 194.8) scale(1 1.03)" font-size="18" text-anchor="end">0.8</text>
<text transform="translate(54.0 269.9) scale(1 1.03)" font-size="18" text-anchor="end">0.7</text>
<text transform="translate(54.0 345.1) scale(1 1.03)" font-size="18" text-anchor="end">0.6</text>
<text transform="translate(208.6 391.6) scale(1 1.03)" font-size="18" text-anchor="middle">Small lesions</text>
<text transform="translate(531.5 391.6) scale(1 1.03)" font-size="18" text-anchor="middle">Large lesions</text>
<text transform="translate(17.3 199) rotate(-90)" font-size="20" text-anchor="middle">Dice per case</text>
<text transform="translate(404.4 51.7) scale(1 1.03)" font-size="16" text-anchor="start">UNETR</text>
<text transform="translate(404.4 75.4) scale(1 1.03)" font-size="16" text-anchor="start">Swin-UNETR</text>
<text transform="translate(578.9 51.7) scale(1 1.03)" font-size="16" text-anchor="start">SegMamba</text>
<text transform="translate(578.9 75.4) scale(1 1.03)" font-size="16" text-anchor="start">STD-Net</text>
</g>
<path d="M372.6 44.6L378.4 50.4M372.6 50.4L378.4 44.6" stroke="#DE9F27" stroke-width="1.5" fill="none"/>
<path d="M372.6 68.5L378.4 74.30000000000001M372.6 74.30000000000001L378.4 68.5" stroke="#62B8E8" stroke-width="1.5" fill="none"/>
<path d="M547.2 44.6L553.0 50.4M547.2 50.4L553.0 44.6" stroke="#3AAA7A" stroke-width="1.5" fill="none"/>
<path d="M547.2 68.5L553.0 74.30000000000001M547.2 74.30000000000001L553.0 68.5" stroke="#E5E544" stroke-width="1.5" fill="none"/>
</svg></body></html>
